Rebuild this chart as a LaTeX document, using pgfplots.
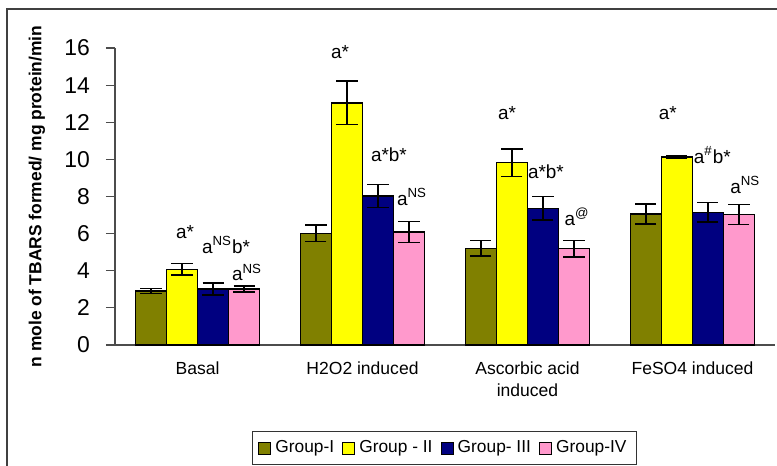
\documentclass[border=0pt]{standalone}
\usepackage{fontspec}
\setmainfont{Liberation Sans}
\usepackage{pgfplots}
\usepackage{pgfplotstable}
\pgfplotsset{compat=1.18}
\definecolor{gI}{HTML}{808000}
\definecolor{gII}{HTML}{FFFF00}
\definecolor{gIII}{HTML}{000080}
\definecolor{gIV}{HTML}{FF99CC}
\pgfplotstableread{
x y e
0 2.91 0.14
1 6.02 0.45
2 5.21 0.42
3 7.06 0.54
}\gone
\pgfplotstableread{
x y e
0 4.08 0.31
1 13.05 1.16
2 9.82 0.75
3 10.14 0.07
}\gtwo
\pgfplotstableread{
x y e
0 3.02 0.32
1 8.03 0.62
2 7.36 0.63
3 7.15 0.52
}\gthree
\pgfplotstableread{
x y e
0 3.02 0.17
1 6.09 0.57
2 5.19 0.45
3 7.04 0.54
}\gfour
\pgfplotsset{
  mybar/.style={draw=black, line width=0.75bp, fill=#1,
    error bars/y dir=both, error bars/y explicit,
    error bars/error bar style={line width=0.75bp, black},
    error bars/error mark options={rotate=90, mark size=5.25bp, line width=0.75bp, black}},
}
\begin{document}
\begin{tikzpicture}
\path[use as bounding box] (0,0) rectangle (388.5bp,233bp);
\draw[black!75, line width=0.6bp] (3.5bp,-10bp) rectangle (400bp,228.5bp);
\begin{axis}[
  at={(57.5bp,60.5bp)}, anchor=south west,
  scale only axis, width=330bp, height=148.5bp,
  clip=false,
  xmin=-0.5, xmax=3.5, ymin=0, ymax=16,
  ytick={0,2,...,16},
  xtick={0,1,2,3},
  xticklabels={Basal, H2O2 induced, {Ascorbic acid\\induced}, FeSO4 induced},
  xticklabel style={align=center, font=\fontsize{8.8}{11}\selectfont, yshift=-0.5bp},
  yticklabel style={font=\fontsize{11.5}{12}\selectfont, xshift=-4.5bp},
  /pgf/number format/assume math mode=true,
  axis x line*=bottom, axis y line*=left,
  axis line style={black!70, line width=0.6bp},
  tick style={black!70, line width=0.6bp},
  tick align=outside,
  major tick length=4.5bp,
  x tick style={draw=none},
  extra x ticks={-0.5,0.5,1.5,2.5,3.5},
  extra x tick labels={},
  extra x tick style={tick style={draw=black!70, line width=0.6bp}, major tick length=2.5bp},
  ybar=0pt, bar width=15.5bp,
  every axis y label/.style={at={(axis description cs:0,0.5)}, xshift=-39bp, rotate=90, anchor=center, font=\bfseries\fontsize{8.75}{10}\selectfont},
  ylabel={n mole of TBARS formed/ mg protein/min},
  legend columns=4,
  legend style={at={(0.499,-0.348)}, anchor=center, draw=black!80, line width=0.5bp,
    font=\fontsize{8.7}{10}\selectfont, inner xsep=3bp, inner ysep=2.5bp,
    /tikz/every even column/.append style={column sep=2bp}},
  legend image code/.code={\draw[#1, line width=0.6bp, draw=black] (0bp,-3bp) rectangle (6bp,3bp);},
]
\addplot[mybar=gI] table[x=x,y=y,y error=e]{\gone};
\addplot[mybar=gII] table[x=x,y=y,y error=e]{\gtwo};
\addplot[mybar=gIII] table[x=x,y=y,y error=e]{\gthree};
\addplot[mybar=gIV] table[x=x,y=y,y error=e]{\gfour};
\legend{Group-I, Group - II, Group- III, Group-IV}
\begin{scope}[every node/.style={font=\fontsize{9.5}{11}\selectfont, inner sep=0pt}]
\node at (axis cs:-0.076,6.1) {a*};
\node at (axis cs:0.173,5.4) {a\textsuperscript{NS}b*};
\node at (axis cs:0.30,3.9) {a\textsuperscript{NS}};
\node at (axis cs:0.864,15.8) {a*};
\node at (axis cs:1.16,10.24) {a*b*};
\node at (axis cs:1.30,7.97) {a\textsuperscript{NS}};
\node at (axis cs:1.876,12.5) {a*};
\node at (axis cs:2.112,9.32) {a*b*};
\node at (axis cs:2.30,6.9) {a\textsuperscript{@}};
\node at (axis cs:2.85,12.5) {a*};
\node at (axis cs:3.12,10.24) {a\textsuperscript{\#}b*};
\node at (axis cs:3.32,8.62) {a\textsuperscript{NS}};
\end{scope}
\end{axis}
\end{tikzpicture}
\end{document}
